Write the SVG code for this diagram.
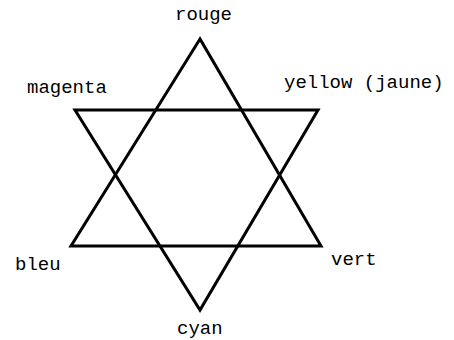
<svg xmlns="http://www.w3.org/2000/svg" width="454" height="340" viewBox="0 0 454 340">
<style>
.lbl{font-family:"Liberation Mono","Courier New",monospace;font-size:19px;fill:#000}
.tri{fill:none;stroke:#000;stroke-width:3;stroke-linejoin:miter}
</style>
<rect width="454" height="340" fill="#fff"/>
<g id="connectors">
<polygon class="tri" points="200,39 71,246 321,246"/>
<polygon class="tri" points="75,110 318,110 200,310"/>
</g>
<g id="rouge"><text class="lbl" x="175" y="20">rouge</text></g>
<g id="magenta"><text class="lbl" x="27" y="93">magenta</text></g>
<g id="yellow"><text class="lbl" x="284" y="88">yellow (jaune)</text></g>
<g id="bleu"><text class="lbl" x="15" y="270">bleu</text></g>
<g id="vert"><text class="lbl" x="331" y="265">vert</text></g>
<g id="cyan"><text class="lbl" x="177" y="334">cyan</text></g>
</svg>
